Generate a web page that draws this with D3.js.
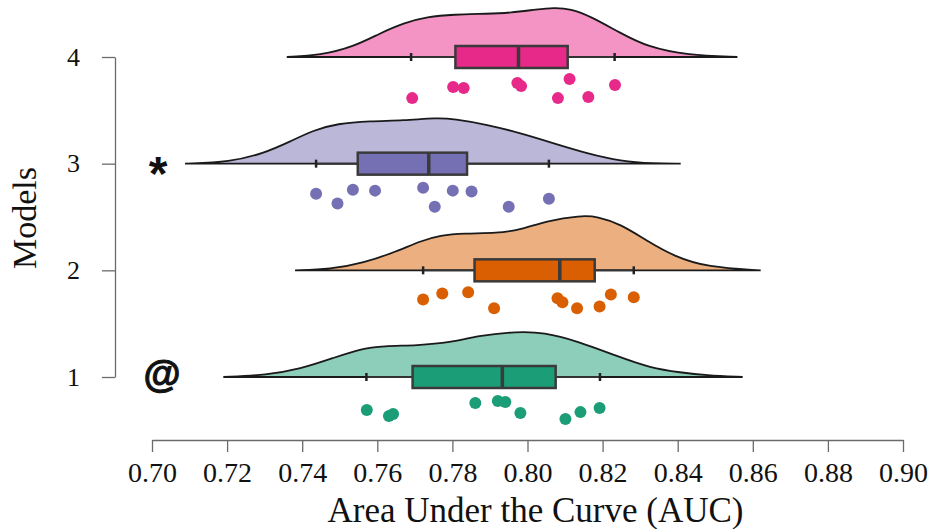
<!DOCTYPE html>
<html>
<head>
<meta charset="utf-8">
<script src="https://cdn.jsdelivr.net/npm/d3@7"></script>
<style>
  body { margin: 0; background: #fff; }
  svg { display: block; }
</style>
</head>
<body>
<div id="chart"></div>
<script>
// models, bottom to top
var models = [1, 2, 3, 4];
var colors = ["#1B9E77", "#D95F02", "#7570B3", "#E7298A"];
var marks = ["@", "", "*", ""];
var xTicks = [0.70, 0.72, 0.74, 0.76, 0.78, 0.80, 0.82, 0.84, 0.86, 0.88, 0.90];

// AUC values per model
var auc1 = [0.7572, 0.7631, 0.7642, 0.7861, 0.7921, 0.7941, 0.7981, 0.8101, 0.8141, 0.8192];
var auc2 = [0.7722, 0.7773, 0.7842, 0.7911, 0.8080, 0.8093, 0.8132, 0.8192, 0.8222, 0.8283];
var auc3 = [0.7437, 0.7494, 0.7535, 0.7594, 0.7722, 0.7753, 0.7801, 0.7851, 0.7950, 0.8057];
var auc4 = [0.7693, 0.7802, 0.7830, 0.7973, 0.7983, 0.8112, 0.8081, 0.8162, 0.8233];

// vertical jitter of the rain points (0..1)
var jit1 = [0.54, 0.79, 0.71, 0.25, 0.17, 0.21, 0.67, 0.92, 0.63, 0.46];
var jit2 = [0.38, 0.13, 0.08, 0.75, 0.33, 0.50, 0.75, 0.67, 0.17, 0.29];
var jit3 = [0.42, 0.83, 0.25, 0.29, 0.17, 0.96, 0.29, 0.33, 0.96, 0.63];
var jit4 = [0.88, 0.42, 0.46, 0.25, 0.38, 0.08, 0.88, 0.83, 0.33];

// box stats: [lower whisker, Q1, median, Q3, upper whisker]
var box1 = [0.7571, 0.7694, 0.7933, 0.8075, 0.8193];
var box2 = [0.7722, 0.7859, 0.8086, 0.8179, 0.8283];
var box3 = [0.7437, 0.7548, 0.7737, 0.7839, 0.8057];
var box4 = [0.7690, 0.7808, 0.7976, 0.8107, 0.8232];

// density clouds [AUC, density]
var dens1 = [[0.7190, 0], [0.7306, 1], [0.7395, 3.9], [0.7484, 9.4], [0.7555, 13.9], [0.7617, 15.2],
  [0.7706, 15.5], [0.7795, 16.9], [0.7866, 20.2], [0.7973, 22.4], [0.8043, 21.9], [0.8132, 17.7],
  [0.8239, 10.2], [0.8328, 4.4], [0.8408, 2.2], [0.8475, 0.8], [0.8573, 0]];
var dens2 = [[0.7381, 0], [0.7475, 0.5], [0.7563, 3.5], [0.7653, 9.4], [0.7715, 14.4], [0.7768, 17.2],
  [0.7830, 18.2], [0.7919, 18.2], [0.7981, 19.9], [0.8053, 24.4], [0.8141, 26.9], [0.8186, 26.5],
  [0.8248, 22.7], [0.8319, 14.4], [0.8390, 6.9], [0.8479, 1.5], [0.8621, 0]];
var dens3 = [[0.7088, 0], [0.7208, 0.85], [0.7297, 5], [0.7368, 10.9], [0.7430, 16.4], [0.7493, 19.7],
  [0.7581, 20.9], [0.7670, 21.2], [0.7759, 22.5], [0.7803, 22], [0.7893, 19.2], [0.7981, 15],
  [0.8070, 10], [0.8159, 5], [0.8248, 1.2], [0.8337, 0], [0.8408, 0]];
var dens4 = [[0.7359, 0], [0.7448, 0.85], [0.7537, 5], [0.7608, 11.7], [0.7670, 16.7], [0.7733, 19.7],
  [0.7803, 20.9], [0.7893, 21.2], [0.7955, 21.7], [0.8026, 23.4], [0.8070, 24.2], [0.8115, 23.7],
  [0.8168, 20], [0.8248, 11.7], [0.8319, 5], [0.8426, 0.85], [0.8559, 0]];

var aucs = [auc1, auc2, auc3, auc4],
  jits = [jit1, jit2, jit3, jit4],
  boxes = [box1, box2, box3, box4],
  clouds = [dens1, dens2, dens3, dens4];

var width = 932,
  height = 529,
  serif = "'Liberation Serif', 'Times New Roman', serif";

var svg = d3.select("#chart").append("svg")
  .attr("width", width)
  .attr("height", height);

var x = d3.scaleLinear().domain([0.70, 0.90]).range([152, 903]);
var y = d3.scaleLinear().domain([1, 4]).range([377, 57]);
var h = d3.scaleLinear().domain([0, 27]).range([0, 55]);
var jy = d3.scaleLinear().domain([0, 1]).range([20, 44]);
var boxH = 22;

// axes
var xAxis = svg.append("g")
  .attr("transform", "translate(0,440)")
  .call(d3.axisBottom(x).tickValues(xTicks).tickFormat(d3.format(".2f")).tickSize(12).tickSizeOuter(0).tickPadding(10));

var yAxis = svg.append("g")
  .attr("transform", "translate(115,0)")
  .call(d3.axisLeft(y).tickValues(models).tickFormat(d3.format("d")).tickSize(13).tickSizeOuter(0).tickPadding(22));

[xAxis, yAxis].forEach(function (g) {
  g.selectAll("path, line").attr("stroke", "#6b6b6b").attr("stroke-width", 1.3);
  g.selectAll("text").attr("fill", "#111").style("font-family", serif);
});
xAxis.selectAll("text").style("font-size", "28px");
yAxis.selectAll("text").style("font-size", "26px");

svg.append("text")
  .attr("x", (x(0.70) + x(0.90)) / 2 + 8)
  .attr("y", 522)
  .attr("text-anchor", "middle")
  .style("font-family", serif)
  .style("font-size", "35px")
  .attr("fill", "#111")
  .text("Area Under the Curve (AUC)");

svg.append("text")
  .attr("transform", "translate(36,218) rotate(-90)")
  .attr("text-anchor", "middle")
  .style("font-family", serif)
  .style("font-size", "34px")
  .attr("fill", "#111")
  .text("Models");

models.forEach(function (m, i) {
  var y0 = y(m),
    col = colors[i],
    g = svg.append("g");

  var area = d3.area()
    .x(function (d) { return x(d[0]); })
    .y0(y0)
    .y1(function (d) { return y0 - h(d[1]); })
    .curve(d3.curveBasis);

  g.append("path")
    .datum(clouds[i])
    .attr("d", area)
    .attr("fill", col)
    .attr("fill-opacity", 0.5)
    .attr("stroke", "#1a1a1a")
    .attr("stroke-width", 1.8);

  var b = boxes[i];
  g.append("line")
    .attr("x1", x(b[0])).attr("x2", x(b[4]))
    .attr("y1", y0).attr("y2", y0)
    .attr("stroke", "#333").attr("stroke-width", 2);
  [b[0], b[4]].forEach(function (v) {
    g.append("line")
      .attr("x1", x(v)).attr("x2", x(v))
      .attr("y1", y0 - 4).attr("y2", y0 + 4)
      .attr("stroke", "#222").attr("stroke-width", 2.5);
  });
  g.append("rect")
    .attr("x", x(b[1]))
    .attr("y", y0 - boxH / 2)
    .attr("width", x(b[3]) - x(b[1]))
    .attr("height", boxH)
    .attr("fill", col)
    .attr("stroke", "#3a3a3a")
    .attr("stroke-width", 2.5);
  g.append("line")
    .attr("x1", x(b[2])).attr("x2", x(b[2]))
    .attr("y1", y0 - boxH / 2).attr("y2", y0 + boxH / 2)
    .attr("stroke", "#3a3a3a").attr("stroke-width", 3.5);

  g.selectAll("circle")
    .data(aucs[i])
    .enter().append("circle")
    .attr("cx", function (d) { return x(d); })
    .attr("cy", function (d, k) { return y0 + jy(jits[i][k]); })
    .attr("r", 6)
    .attr("fill", col);

  if (marks[i]) {
    var star = marks[i] === "*";
    svg.append("text")
      .attr("x", star ? 158 : 162)
      .attr("y", y0)
      .attr("dy", star ? "0.55em" : "0.26em")
      .attr("text-anchor", "middle")
      .style("font-family", "'Liberation Sans', Arial, sans-serif")
      .style("font-weight", "bold")
      .style("font-size", star ? "48px" : "38px")
      .attr("fill", "#111")
      .attr("stroke", "#111")
      .attr("stroke-width", star ? 0 : 1)
      .text(marks[i]);
  }
});
</script>
</body>
</html>
